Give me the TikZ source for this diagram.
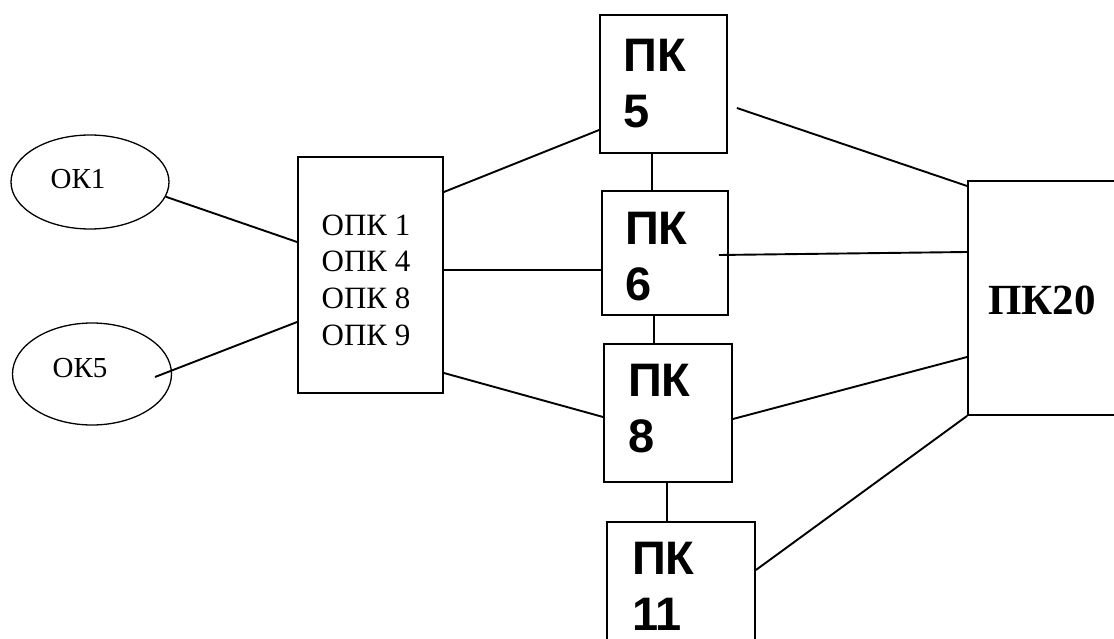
\documentclass[tikz,border=0pt]{standalone}
\usepackage{fontspec}
\setmainfont{Liberation Serif}
\newfontfamily\pkfont{Liberation Sans}
\usetikzlibrary{shapes.geometric}
\tikzset{
  box/.style={draw, line width=1.8pt, rectangle, inner sep=0pt},
  oval/.style={draw, line width=1.3pt, ellipse, inner sep=0pt},
  link/.style={line width=1.9pt},
  vlink/.style={line width=1.2pt},
  pktext/.style={anchor=north west, inner sep=0pt, align=left, font=\pkfont\bfseries\fontsize{47}{56}\selectfont},
}
\begin{document}
\begin{tikzpicture}[x=1pt,y=-1pt]
\useasboundingbox[fill=white] (0,0) rectangle (1114,639);
% ovals
\node[oval, minimum width=158pt, minimum height=94pt] (ok1) at (90,182) {};
\node[font=\fontsize{29}{30}\selectfont, inner sep=0pt] (t1) at (78,179) {ОК1};
\node[oval, minimum width=159pt, minimum height=102pt] (ok5) at (92,374) {};
\node[font=\fontsize{29}{30}\selectfont, inner sep=0pt] (t2) at (80,368) {ОК5};
% OPK
\node[box, minimum width=145pt, minimum height=236pt] (opk) at (370.5,275) {};
\node[font=\fontsize{31}{36.7}\selectfont, align=center, inner sep=0pt] (topk) at (366,280) {ОПК 1\\ОПК 4\\ОПК 8\\ОПК 9};
% PK boxes
\node[box, minimum width=127pt, minimum height=138pt] (pk5) at (663.5,84) {};
\node[pktext] (t5) at (623,39) {ПК\\5};
\node[box, minimum width=126pt, minimum height=124pt] (pk6) at (665,253) {};
\node[pktext] (t6) at (625,212) {ПК\\6};
\node[box, minimum width=128pt, minimum height=138pt] (pk8) at (668,413) {};
\node[pktext] (t8) at (628,364) {ПК\\8};
\node[box, minimum width=148pt, minimum height=160pt] (pk11) at (681,602) {};
\node[pktext] (t11) at (632,542) {ПК\\11};
% PK20
\node[box, minimum width=148pt, minimum height=234pt] (pk20) at (1042,298) {};
\node[font=\bfseries\fontsize{43}{45}\selectfont, inner sep=0pt] (t20) at (1042,300) {ПК20};
% links
\draw[link] (ok1.-11) -- ([yshift=33pt]opk.west);
\draw[link] ([xshift=63pt,yshift=-3pt]ok5.center) -- ([yshift=-47pt]opk.west);
\draw[link] ([yshift=83pt]opk.east) -- ([yshift=-46pt]pk5.west);
\draw[link] ([yshift=5pt]opk.east) -- ([yshift=-17pt]pk6.west);
\draw[link] ([yshift=-98pt]opk.east) -- ([yshift=-4pt]pk8.west);
\draw[link] ([xshift=9pt,yshift=-24pt]pk5.east) -- ([yshift=112pt]pk20.west);
\draw[link] ([xshift=-10pt,yshift=-2pt]pk6.east) -- ([yshift=46pt]pk20.west);
\draw[link] ([yshift=-6pt]pk8.east) -- ([yshift=-59pt]pk20.west);
\draw[link] ([yshift=32pt]pk11.east) -- (pk20.south west);
% vertical links
\coordinate (v1) at ([xshift=-11.5pt]pk5.south);
\draw[vlink] (v1) -- (v1 |- pk6.north);
\coordinate (v2) at ([xshift=-11pt]pk6.south);
\draw[vlink] (v2) -- (v2 |- pk8.north);
\coordinate (v3) at ([xshift=-1pt]pk8.south);
\draw[vlink] (v3) -- (v3 |- pk11.north);
\end{tikzpicture}
\end{document}
